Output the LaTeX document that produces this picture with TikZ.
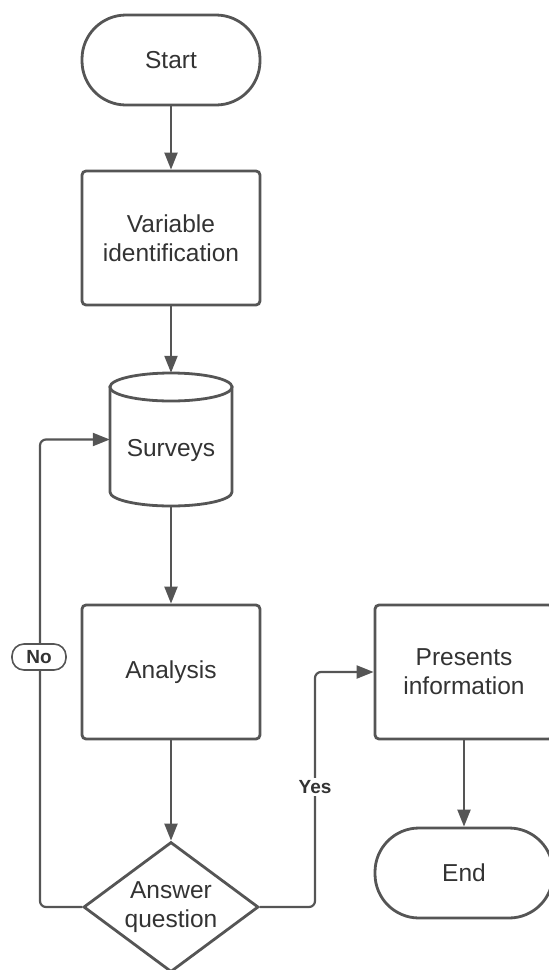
\documentclass[tikz,border=0pt]{standalone}
\usepackage{fontspec}
\setmainfont{Liberation Sans}
\usetikzlibrary{shapes.geometric,arrows.meta}
\definecolor{ink}{HTML}{555555}
\definecolor{txt}{HTML}{333333}
\begin{document}
\begin{tikzpicture}[x=1pt,y=1pt,
  shapebox/.style={draw=ink, line width=2.8pt, fill=white, text=txt,
    font=\fontsize{24.5}{29}\selectfont, align=center, inner sep=0pt,
    minimum width=178pt},
  proc/.style={shapebox, rectangle, rounded corners=4pt, minimum height=134pt},
  term/.style={shapebox, rectangle, rounded corners=44pt, minimum height=90pt},
  decision/.style={shapebox, diamond, minimum width=175pt, minimum height=130pt, aspect=1.346},
  flow/.style={draw=ink, line width=2.2pt, rounded corners=6pt,
    -{Triangle[length=17pt,width=13pt]}},
  tag/.style={font=\bfseries\fontsize{19}{21}\selectfont, text=txt, fill=white, inner sep=2pt}
]
\useasboundingbox (0,0) rectangle (549,-970);

% process steps
\node[term] (start) at (171,-60) {Start};
\node[proc] (varid) at (171,-238) {Variable\\identification};

% database cylinder for the surveys
\path[draw=ink, line width=2.8pt, fill=white]
  (110,-387) -- (110,-492)
  arc[start angle=180, end angle=360, x radius=61pt, y radius=14pt]
  -- (232,-387) -- cycle;
\draw[ink, line width=2.8pt, fill=white] (171,-387) ellipse [x radius=61pt, y radius=14pt];
\node[minimum width=122pt, minimum height=133pt, inner sep=0pt] (surveys) at (171,-439.5) {};
\node[text=txt, font=\fontsize{24.5}{29}\selectfont] (surveystext) at (171,-450) {Surveys};

\node[proc] (analysis) at (171,-672) {Analysis};
\node[decision] (answer) at (171,-907) {Answer\\question};
\node[proc] (presents) at (464,-672) {Presents\\information};
\node[term] (end) at (464,-873) {End};

% straight connectors
\draw[flow] (start) -- (varid);
\draw[flow] (varid) -- (surveys);
\draw[flow] (surveys) -- (analysis);
\draw[flow] (analysis) -- (answer);
\draw[flow] (presents) -- (end);

% branch columns
\coordinate (yesx) at (315,0);
\coordinate (nox) at (40,0);

\draw[flow] (answer.east) -- (answer.east -| yesx) -- (yesx |- presents.west) -- (presents.west);
\node[tag] (yes) at (315,-787) {Yes};

\draw[flow] (answer.west) -- (answer.west -| nox) -- (nox |- surveys.west) -- (surveys.west);
\node[tag, draw=ink, line width=1.6pt, rounded corners=12pt, minimum width=54pt, minimum height=26pt, inner sep=0pt] (no) at (39,-657) {No};
\end{tikzpicture}
\end{document}
